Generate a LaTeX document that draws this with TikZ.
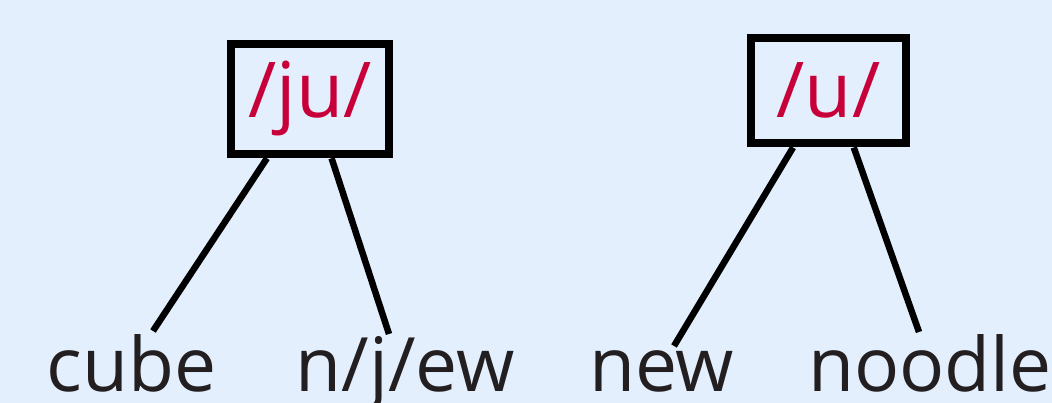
\documentclass[tikz,border=0pt]{standalone}
\usepackage{fontspec}
\setmainfont{Open Sans}
\definecolor{bgblue}{HTML}{E3EFFD}
\definecolor{ink}{HTML}{231F20}
\definecolor{phon}{HTML}{C8003A}
\begin{document}
\begin{tikzpicture}[x=1pt,y=-1pt,
  soundbox/.style={draw=black, line width=8pt, inner sep=0pt,
    font=\fontsize{77}{77}\selectfont, text=phon},
  word/.style={anchor=base, inner sep=0pt, text=ink,
    font=\fontsize{75}{75}\selectfont},
  branch/.style={draw=black, line width=6.5pt}]
  % canvas
  \fill[bgblue] (0,0) rectangle (1052,403);
  \useasboundingbox (0,0) rectangle (1052,403);

  % phoneme boxes
  \node[soundbox, minimum width=158.5pt, minimum height=110.5pt,
        text height=50pt, text depth=12pt] (ju) at (310,99) {/ju/};
  \node[soundbox, minimum width=155pt, minimum height=105.5pt,
        text height=66.5pt, text depth=12pt] (u) at (828.5,90.75) {/u/};

  % example words
  \node[word] (cube)   at (131.5,391) {cube};
  \node[word] (njew)   at (405,391)   {n/j/ew};
  \node[word] (new)    at (661.5,391) {new};
  \node[word] (noodle) at (930,391)   {noodle};

  % branch ends just above the words
  \coordinate (cubeT)   at (153,331);
  \coordinate (njewT)   at (389,334);
  \coordinate (newT)    at (674,346);
  \coordinate (noodleT) at (919,332);

  % branches
  \draw[branch] (ju.-126)  -- (cubeT);
  \draw[branch] (ju.-70)   -- (njewT);
  \draw[branch] (u.-122.4) -- (newT);
  \draw[branch] (u.-66.9)  -- (noodleT);
\end{tikzpicture}
\end{document}
